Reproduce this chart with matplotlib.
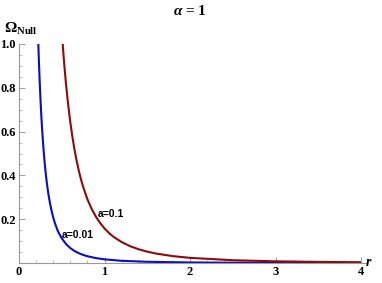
import matplotlib
matplotlib.use("Agg")
import matplotlib.pyplot as plt
from matplotlib.ticker import MultipleLocator

plt.rcParams["mathtext.fontset"] = "custom"
plt.rcParams["mathtext.rm"] = "Liberation Serif:bold"
plt.rcParams["mathtext.bf"] = "Liberation Serif:bold"
plt.rcParams["mathtext.it"] = "Liberation Serif:italic:bold"

# data
r_blue = [0.226, 0.23, 0.235, 0.24, 0.25, 0.26, 0.27, 0.28, 0.29, 0.30, 0.31, 0.32, 0.33,
          0.34, 0.35, 0.36, 0.38, 0.40, 0.42, 0.45, 0.47, 0.50, 0.55, 0.60, 0.65,
          0.70, 0.75, 0.80, 0.90, 1.0, 1.2, 1.5, 2.0, 2.5, 3.0, 4.0]
omega_blue = [1.0, 0.953, 0.898, 0.848, 0.758, 0.680, 0.613, 0.555, 0.504, 0.459, 0.419,
              0.384, 0.353, 0.325, 0.300, 0.278, 0.240, 0.208, 0.182, 0.150, 0.1335, 0.113,
              0.0866, 0.0682, 0.0547, 0.0447, 0.0369, 0.0309, 0.0224, 0.0167, 0.0101,
              0.0055, 0.0025, 0.0013, 0.0008, 0.0004]
r_red = [0.511, 0.52, 0.53, 0.54, 0.55, 0.57, 0.60, 0.625, 0.65, 0.675, 0.70, 0.725, 0.75,
         0.80, 0.85, 0.90, 0.95, 1.0, 1.05, 1.1, 1.2, 1.3, 1.4, 1.5, 1.6, 1.8,
         2.0, 2.5, 3.0, 3.5, 4.0]
omega_red = [1.0, 0.953, 0.904, 0.859, 0.817, 0.740, 0.643, 0.575, 0.516, 0.465, 0.421,
             0.382, 0.348, 0.291, 0.247, 0.211, 0.182, 0.158, 0.138, 0.121, 0.0956,
             0.0767, 0.0626, 0.0518, 0.0433, 0.0313, 0.0235, 0.0127, 0.0077, 0.0050, 0.0035]
label_blue = "a=0.01"
label_red = "a=0.1"
x_ticks = [0, 1, 2, 3, 4]
x_ticklabels = ["0", "1", "2", "3", "4"]
y_ticks = [0.2, 0.4, 0.6, 0.8, 1.0]
y_ticklabels = ["0.2", "0.4", "0.6", "0.8", "1.0"]

fig = plt.figure(figsize=(3.82, 2.83), dpi=100)
ax = fig.add_axes([19/382, 20/283, 342/382, 219/283])

blue = "#0C0CC4"
red = "#8E0A0A"
ax.plot(r_blue, omega_blue, color=blue, lw=1.5, solid_joinstyle="round")
ax.plot(r_red, omega_red, color=red, lw=1.5, solid_joinstyle="round")

ax.set_xlim(0, 4)
ax.set_ylim(0, 1.0)

for s in ["top", "right"]:
    ax.spines[s].set_visible(False)
for s in ["left", "bottom"]:
    ax.spines[s].set_color("#9a9a9a")
    ax.spines[s].set_linewidth(0.8)
ax.spines["bottom"].set_bounds(0, 4.07)
ax.spines["bottom"].set_clip_on(False)

ax.set_xticks(x_ticks)
ax.set_xticklabels(x_ticklabels)
ax.set_yticks(y_ticks)
ax.set_yticklabels(y_ticklabels)
ax.xaxis.set_minor_locator(MultipleLocator(0.2))
ax.yaxis.set_minor_locator(MultipleLocator(0.05))
ax.tick_params(which="major", direction="in", length=4, width=0.7, color="#9a9a9a",
               labelsize=9, pad=2.5)
ax.tick_params(which="minor", direction="in", length=2.2, width=0.6, color="#b0b0b0")
for lab in ax.get_xticklabels() + ax.get_yticklabels():
    lab.set_family("Liberation Serif")
    lab.set_fontweight("bold")

fig.text(190/382, 1 - 11/283, r"$\alpha$ = 1", ha="center", va="center",
         fontsize=11, family="Liberation Serif", fontweight="bold")
fig.text(4/382, 1 - 29/283, r"$\Omega_{\mathrm{Null}}$", ha="left", va="center",
         fontsize=11)
fig.text(366/382, 1 - 262/283, "r", ha="left", va="center", fontsize=10,
         family="Liberation Serif", style="italic", fontweight="bold")

ax.text(0.925, 0.224, label_red, fontsize=7.5, fontweight="bold", family="Liberation Sans",
        ha="left", va="center")
ax.text(0.50, 0.128, label_blue, fontsize=7.5, fontweight="bold", family="Liberation Sans",
        ha="left", va="center")

fig.savefig("out.png", dpi=100)
